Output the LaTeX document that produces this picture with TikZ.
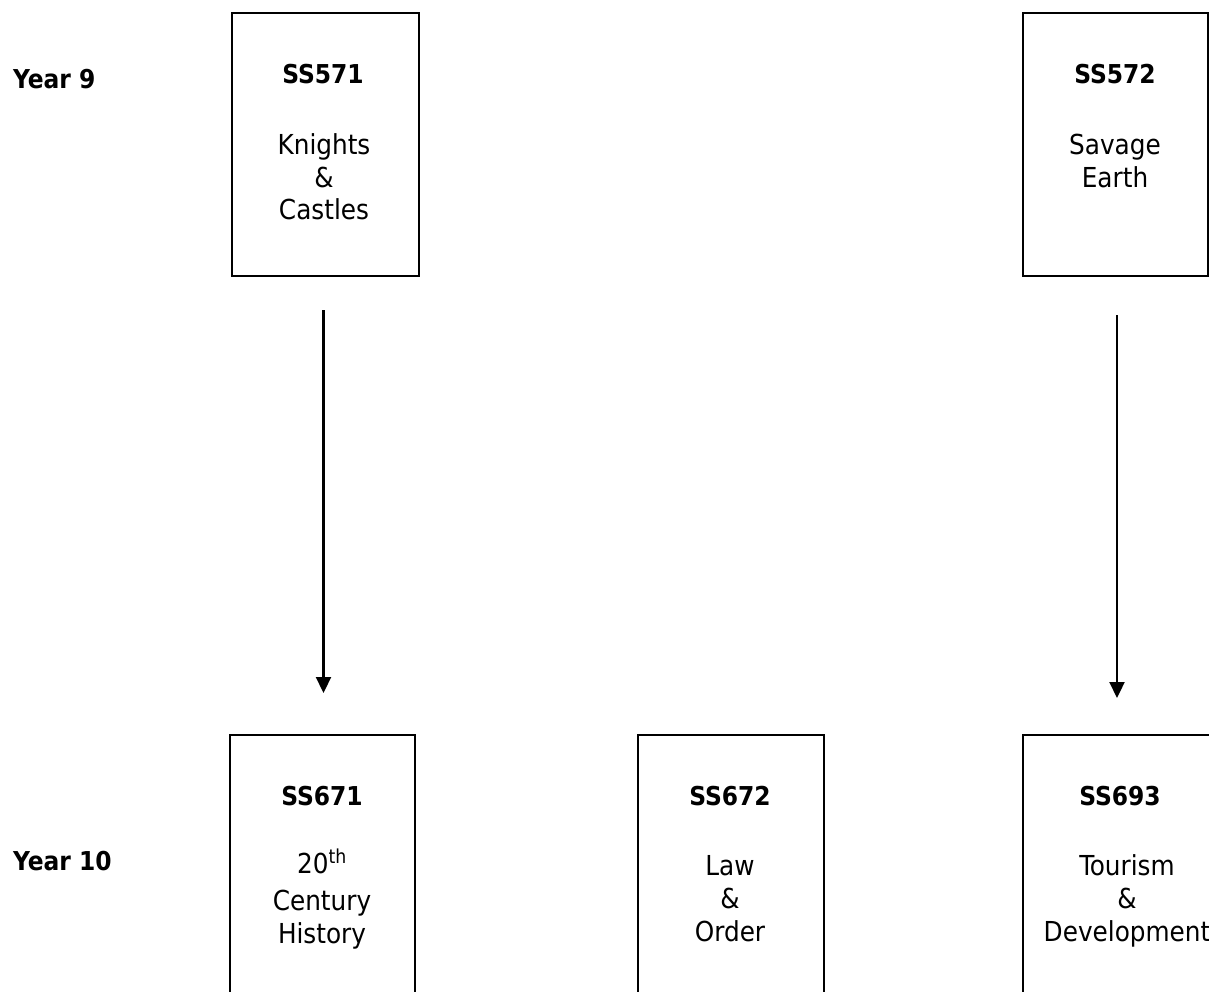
\documentclass[tikz,border=0pt]{standalone}
\usepackage{fontspec}
\setmainfont{DejaVu Sans Condensed}
\usetikzlibrary{arrows.meta}
\begin{document}
\begin{tikzpicture}[x=1pt,y=-1pt,
  box/.style={draw, line width=2pt, inner sep=0pt, outer sep=0pt},
  txt/.style={font=\fontsize{27.5}{33}\selectfont, anchor=base, inner sep=0pt},
  ttl/.style={font=\fontsize{26}{33}\selectfont\bfseries, anchor=base, inner sep=0pt},
  lbl/.style={font=\fontsize{26}{33}\selectfont\bfseries, anchor=base west, inner sep=0pt},
  arr/.style={line width=2.2pt, -{Triangle[length=16pt,width=15pt]}}]
\useasboundingbox (0,0) rectangle (1209,991);
\clip (0,0) rectangle (1209,991);
% labels
\node[lbl] (y9) at (13,88) {Year 9};
\node[lbl] (y10) at (13,870) {Year 10};
% top boxes
\node[box, minimum width=187pt, minimum height=263pt] (b571) at (325.5,144.5) {};
\node[box, minimum width=185pt, minimum height=263pt] (b572) at (1115,144.5) {};
% bottom boxes
\node[box, minimum width=185pt, minimum height=270pt] (b671) at (322.5,870) {};
\node[box, minimum width=186pt, minimum height=270pt] (b672) at (731,870) {};
\node[box, minimum width=230pt, minimum height=270pt] (b693) at (1138,870) {};
% texts SS571
\node[ttl] (t571) at (323,83) {SS571};
\node[txt] (k1) at (324,154) {Knights};
\node[txt] (k2) at (324,187) {\&};
\node[txt] (k3) at (324,219) {Castles};
% SS572
\node[ttl] (t572) at (1115,83) {SS572};
\node[txt] (s1) at (1115,154) {Savage};
\node[txt] (s2) at (1115,187) {Earth};
% SS671
\node[ttl] (t671) at (322,805) {SS671};
\node[txt] (h1) at (322,873) {20\textsuperscript{th}};
\node[txt] (h2) at (322,910) {Century};
\node[txt] (h3) at (322,943) {History};
% SS672
\node[ttl] (t672) at (730,805) {SS672};
\node[txt] (l1) at (730,875) {Law};
\node[txt] (l2) at (730,908) {\&};
\node[txt] (l3) at (730,941) {Order};
% SS693
\node[ttl] (t693) at (1120,805) {SS693};
\node[txt] (d1) at (1127,875) {Tourism};
\node[txt] (d2) at (1127,908) {\&};
\node[txt] (d3) at (1127,941) {Development};
% arrows
\coordinate (a1s) at (323.5,310);
\coordinate (a1e) at (323.5,693);
\coordinate (a2s) at (1117,315);
\coordinate (a2e) at (1117,698);
\draw[arr] (a1s) -- (a1e);
\draw[arr] (a2s) -- (a2e);
\end{tikzpicture}
\end{document}
